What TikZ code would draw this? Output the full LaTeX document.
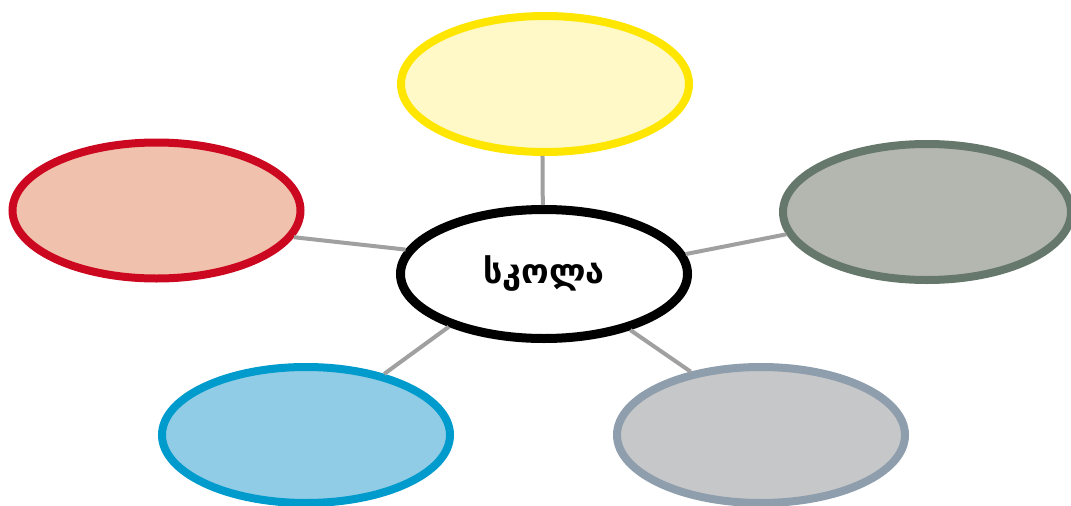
\documentclass[tikz,border=0pt]{standalone}
\usepackage{fontspec}
\newfontfamily\geofont[Script=Georgian]{DejaVu Sans}
\usetikzlibrary{shapes.geometric}
\definecolor{yelS}{RGB}{255,230,0}
\definecolor{yelF}{RGB}{255,249,200}
\definecolor{redS}{RGB}{204,8,32}
\definecolor{redF}{RGB}{240,193,172}
\definecolor{grnS}{RGB}{102,120,108}
\definecolor{grnF}{RGB}{180,183,176}
\definecolor{bluS}{RGB}{0,155,205}
\definecolor{bluF}{RGB}{144,204,230}
\definecolor{gryS}{RGB}{142,158,172}
\definecolor{gryF}{RGB}{198,199,201}
\definecolor{conn}{RGB}{160,160,160}
\begin{document}
\begin{tikzpicture}[x=1pt,y=-1pt,
  outerell/.style={ellipse,draw=#1S,fill=#1F,line width=8pt,minimum width=288pt,minimum height=136pt,inner sep=0pt},
  centerell/.style={ellipse,draw=black,fill=white,line width=9pt,minimum width=287pt,minimum height=129pt,inner sep=0pt,font=\geofont\bfseries\fontsize{34}{40}\selectfont},
  link/.style={draw=conn,line width=4pt}]
\useasboundingbox (0,0) rectangle (1071,506);
\node[centerell] (c) at (544,274) {სკოლა};
\node[outerell=yel] (t) at (545,84) {};
\node[outerell=red] (l) at (156.5,210.5) {};
\node[outerell=grn] (r) at (927,212) {};
\node[outerell=blu] (bl) at (306,435) {};
\node[outerell=gry] (br) at (761,435) {};
\draw[link] (c.91) -- (t.268);
\draw[link] (c.170.2) -- (l.349.9);
\draw[link] (c.8.3) -- (r.189.1);
\draw[link] (c.209.1) -- (bl.38);
\draw[link] (c.327.8) -- (br.138.4);
\end{tikzpicture}
\end{document}
